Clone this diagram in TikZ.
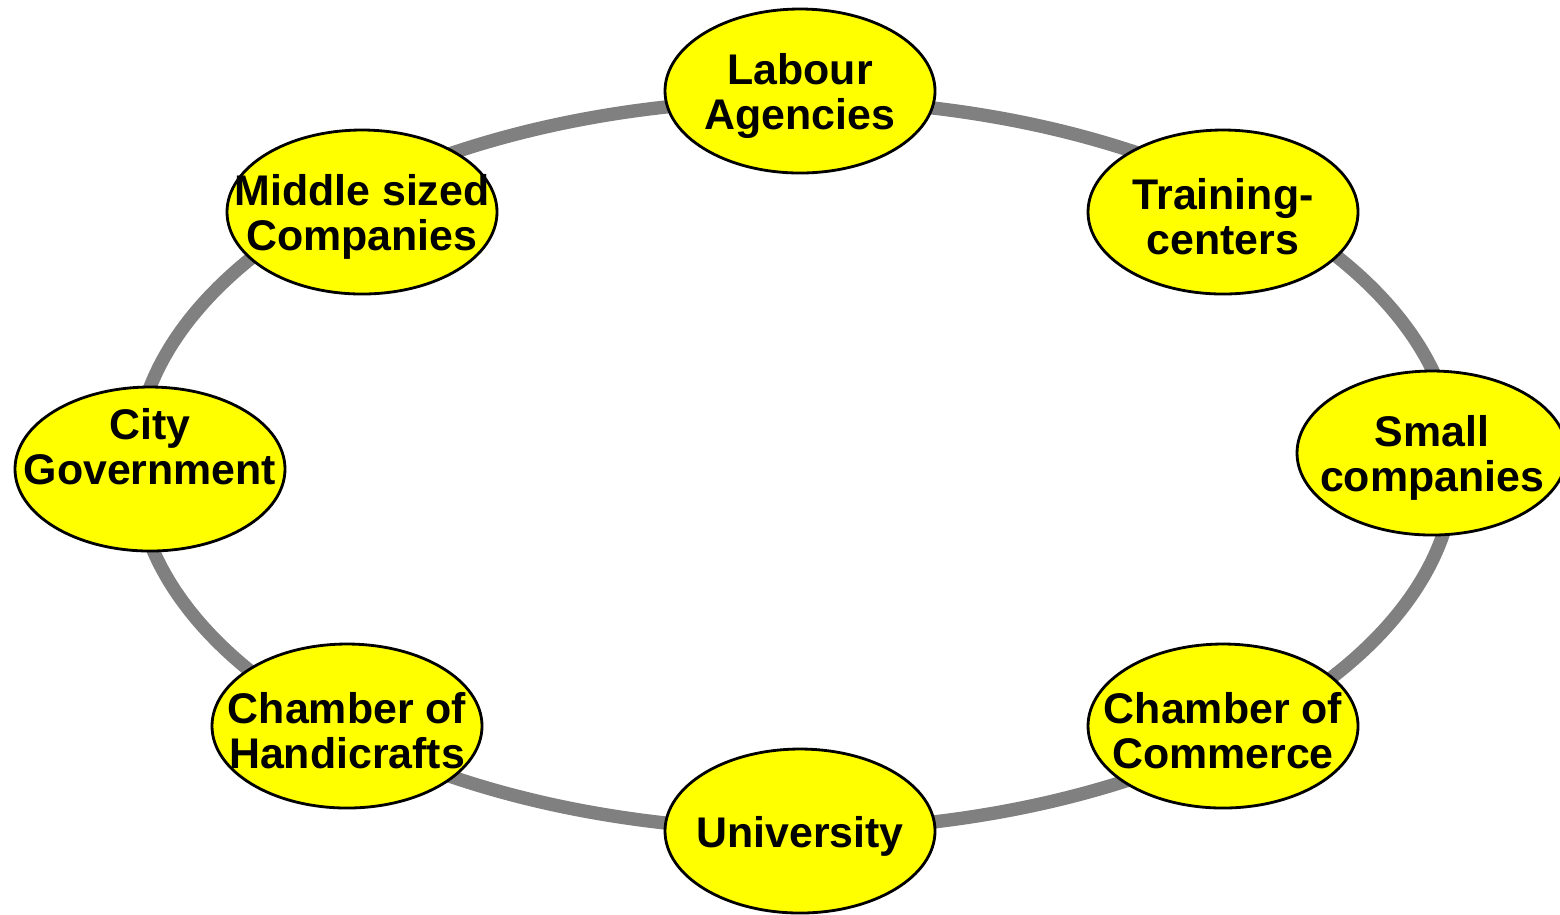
\documentclass[tikz,border=0pt]{standalone}
\usepackage{fontspec}
\setmainfont{Liberation Sans}
\usetikzlibrary{shapes.geometric}

\definecolor{partneryellow}{RGB}{255,255,0}
\definecolor{ringgray}{RGB}{128,128,128}

\tikzset{
	partner/.style={ellipse, draw=black, line width=0.8pt, fill=partneryellow, minimum width=2.70cm, minimum height=1.64cm, inner sep=0pt},
	partnertext/.style={align=center, inner sep=0pt, yshift=-0.05cm, font=\fontsize{12.2}{12.8}\selectfont\bfseries}
}

\begin{document}
\begin{tikzpicture}
					\useasboundingbox (0,0) rectangle (15.60,-9.14);
					
					% the network ring
					\draw[ringgray, line width=3.8pt] (7.95,-4.65) ellipse [x radius=6.60, y radius=3.65];
					
					\node[partner, label={[partnertext]center:Labour\\Agencies}] (lab) at (8.00,-0.91) {};
					\node[partner, label={[partnertext]center:Training-\\centers}] (trc) at (12.23,-2.12) {};
					\node[partner, label={[partnertext]center:Small\\companies}] (smc) at (14.32,-4.53) {};
					\node[partner, label={[partnertext]center:Chamber of\\Commerce}] (coc) at (12.23,-7.26) {};
					\node[partner, label={[partnertext]center:University}] (uni) at (8.00,-8.31) {};
					\node[partner, label={[partnertext]center:Chamber of\\Handicrafts}] (coh) at (3.47,-7.26) {};
					\node[partner, label={[partnertext, yshift=0.27cm]center:City\\Government}] (cgv) at (1.50,-4.69) {};
					\node[partner, label={[partnertext]center:Middle sized\\Companies}] (msc) at (3.62,-2.12) {};
				\end{tikzpicture}
\end{document}
